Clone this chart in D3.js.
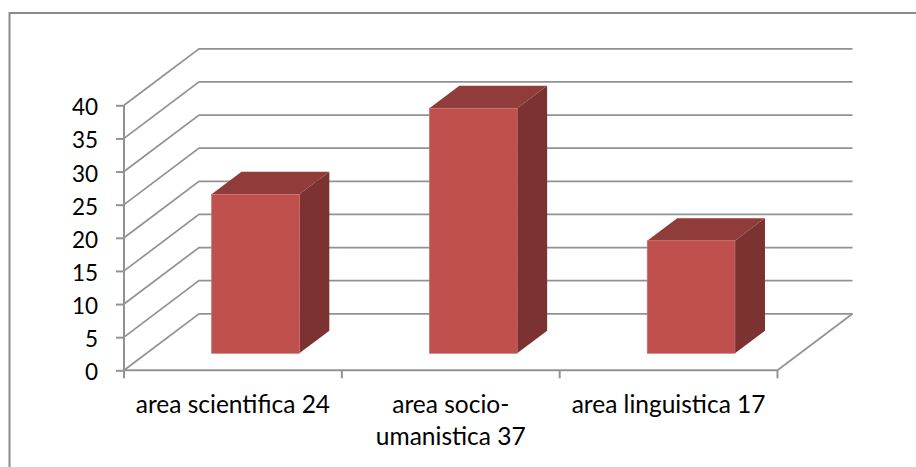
<!DOCTYPE html>
<html><head><meta charset="utf-8">
<style>html,body{margin:0;padding:0;background:#fff;overflow:hidden}svg{display:block}text{font-family:Lato,"Open Sans",sans-serif;fill:#000}</style>
<script src="https://cdn.jsdelivr.net/npm/d3@7"></script></head>
<body><svg id="c" width="916" height="467"></svg>
<script>
const categories = [["area scientifica 24"], ["area socio-", "umanistica 37"], ["area linguistica 17"]];
const categoryKeys = ["scientifica", "socio", "linguistica"];
const values = [24, 37, 17];
const yTicks = [0, 5, 10, 15, 20, 25, 30, 35, 40];

const svg = d3.select("#c");
const x = d3.scaleBand().domain(categoryKeys).range([124, 777.5]).paddingInner(0).paddingOuter(0);
const y = d3.scaleLinear().domain([0, 40]).range([370.3, 105.3]);
const depthX = d3.scaleLinear().domain([0, 1]).range([0, 75]);
const depthY = d3.scaleLinear().domain([0, 1]).range([0, -56.5]);
const barFrac = 0.403, zFront = 0.3, zBack = 0.7;
const gridColor = "#929292";

svg.append("rect").attr("x", 9.5).attr("y", 13).attr("width", 960).attr("height", 520)
  .attr("fill", "#fff").attr("stroke", "#8c8c8c").attr("stroke-width", 2);

// walls
yTicks.forEach(t => {
  svg.append("path")
    .attr("d", d3.line()([[x.range()[0], y(t)], [x.range()[0] + depthX(1), y(t) + depthY(1)], [x.range()[1] + depthX(1), y(t) + depthY(1)]]))
    .attr("fill", "none").attr("stroke", gridColor).attr("stroke-width", 1.7);
});
svg.append("path")
  .attr("d", d3.line()([[x.range()[1], y(0)], [x.range()[1] + depthX(1), y(0) + depthY(1)]]))
  .attr("fill", "none").attr("stroke", gridColor).attr("stroke-width", 1.7);

// axes
const yAxis = d3.axisLeft(y).tickValues(yTicks).tickSize(8).tickPadding(18);
const gy = svg.append("g").attr("transform", `translate(${x.range()[0]},0)`).call(yAxis);
gy.selectAll("path,line").attr("stroke", gridColor).attr("stroke-width", 2);
gy.selectAll("text").style("font-size", "22.5px").style("font-family", "Lato").attr("fill", "#000").attr("dy", "0.42em");
gy.select(".domain").attr("d", `M0,${y(0)}V${y(40)}`);

const gx = svg.append("g").attr("transform", `translate(0,${y(0)})`);
gx.append("path").attr("d", `M${x.range()[0]},0H${x.range()[1]}`).attr("stroke", gridColor).attr("stroke-width", 2);
[...categoryKeys.map(k => x(k)), x.range()[1]].forEach(px => {
  gx.append("line").attr("x1", px).attr("x2", px).attr("y1", 0).attr("y2", 8).attr("stroke", gridColor).attr("stroke-width", 2);
});

// bars
const bars = svg.append("g").selectAll("g").data(values).join("g");
const bw = x.bandwidth() * barFrac;
bars.each(function(v, i) {
  const g = d3.select(this);
  const x0 = x(categoryKeys[i]) + (x.bandwidth() - bw) / 2 + depthX(zFront);
  const x1 = x0 + bw;
  const base = y(0) + depthY(zFront);
  const top = y(v) + depthY(zFront);
  const dx = depthX(zBack - zFront), dy = depthY(zBack - zFront);
  const line = d3.line();
  g.append("path").attr("d", line([[x1, top], [x1 + dx, top + dy], [x1 + dx, base + dy], [x1, base]]) + "Z").attr("fill", "#7b3230");
  g.append("path").attr("d", line([[x0, top], [x0 + dx, top + dy], [x1 + dx, top + dy], [x1, top]]) + "Z").attr("fill", "#903c3a");
  g.append("rect").attr("x", x0).attr("y", top).attr("width", bw).attr("height", base - top)
    .attr("fill", "#c0504d").attr("stroke", "#cd7371").attr("stroke-width", 0.6);
});

// category labels
categories.forEach((lines, i) => {
  const cx = x(categoryKeys[i]) + x.bandwidth() / 2;
  const t = svg.append("text").attr("text-anchor", "middle").style("font-size", "24.5px");
  lines.forEach((l, j) => t.append("tspan").attr("x", cx).attr("y", 412.7 + j * 32).text(l));
});
</script></body></html>
